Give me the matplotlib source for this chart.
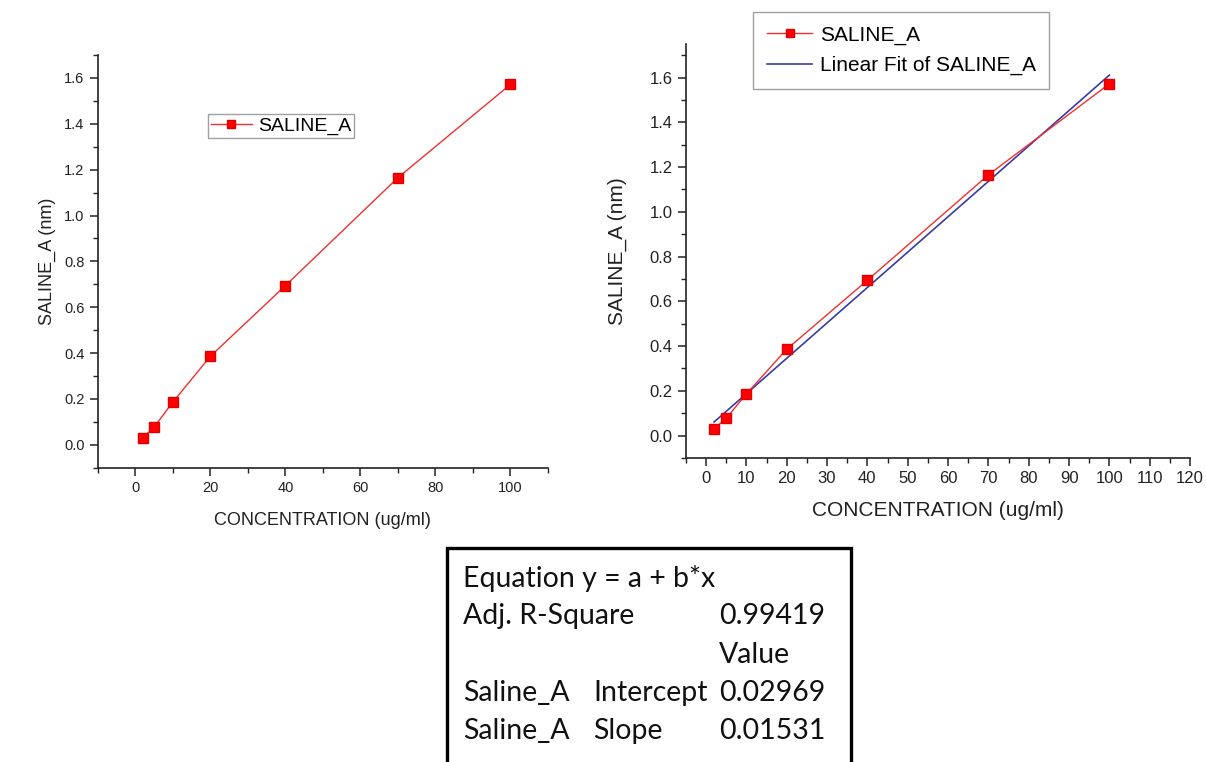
import numpy as np
import matplotlib
matplotlib.use("Agg")
import matplotlib.pyplot as plt
from matplotlib.patches import Rectangle
from matplotlib.ticker import MultipleLocator, FormatStrFormatter

# ---- data ----
concentration = [2, 5, 10, 20, 40, 70, 100]
saline_a = [0.030, 0.077, 0.186, 0.386, 0.694, 1.165, 1.572]
series_label = "SALINE_A"
fit_label = "Linear Fit of SALINE_A"
x_label = "CONCENTRATION (ug/ml)"
y_label = "SALINE_A (nm)"
table_rows = [
    ("Equation y = a + b*x", "", ""),
    ("Adj. R-Square", "", "0.99419"),
    ("", "", "Value"),
    ("Saline_A", "Intercept", "0.02969"),
    ("Saline_A", "Slope", "0.01531"),
]

plt.rcParams['font.family'] = ['Liberation Sans', 'DejaVu Sans']

RED = '#ff0000'
LINE_RED = '#f03030'
BLUE = '#3b3ba6'
W, H = 1206.0, 762.0

fig = plt.figure(figsize=(12.06, 7.62), dpi=100)

def style(ax, xmaj, xmin, fs):
    ax.spines['top'].set_visible(False)
    ax.spines['right'].set_visible(False)
    for s in ('left', 'bottom'):
        ax.spines[s].set_linewidth(1.2)
        ax.spines[s].set_color('#222222')
    ax.xaxis.set_major_locator(MultipleLocator(xmaj))
    ax.xaxis.set_minor_locator(MultipleLocator(xmin))
    ax.yaxis.set_major_locator(MultipleLocator(0.2))
    ax.yaxis.set_minor_locator(MultipleLocator(0.1))
    ax.tick_params(which='major', direction='out', length=6, width=1.1,
                   labelsize=fs, color='#222222', labelcolor='#222222')
    ax.tick_params(which='minor', direction='out', length=3.5, width=1.0,
                   color='#222222')
    ax.yaxis.set_major_formatter(FormatStrFormatter('%.1f'))

# ---- left chart ----
ax1 = fig.add_axes([0.0811, 0.3862, 0.3733, 0.5416])
ax1.plot(concentration, saline_a, color=LINE_RED, lw=1.0, marker='s',
         ms=7.5, mfc=RED, mec='#e00000', label=series_label)
ax1.set_xlim(-10, 110)
ax1.set_ylim(-0.1, 1.7)
style(ax1, 20, 10, 10.5)
ax1.set_xlabel(x_label, fontsize=13, color='#222222', va='center')
ax1.set_ylabel(y_label, fontsize=13, color='#222222', va='center')
ax1.xaxis.set_label_coords(0.5, -0.127)
ax1.yaxis.set_label_coords(-0.112, 0.5)
leg1 = ax1.legend(loc='upper left', bbox_to_anchor=(0.245, 0.856),
                  borderaxespad=0, fontsize=14, fancybox=False,
                  handlelength=2.1, handletextpad=0.3, borderpad=0.15,
                  markerscale=0.8)
leg1.get_frame().set_edgecolor('#888888')
leg1.get_frame().set_linewidth(1.0)

# ---- right chart ----
ax2 = fig.add_axes([0.5687, 0.399, 0.4181, 0.5433])
ax2.plot(concentration, saline_a, color=LINE_RED, lw=1.0, marker='s',
         ms=7.5, mfc=RED, mec='#e00000', label=series_label, zorder=3)
slope, intercept = np.polyfit(concentration, saline_a, 1)
xf = np.array([concentration[0], concentration[-1]])
ax2.plot(xf, intercept + slope * xf, color=BLUE, lw=1.2, label=fit_label,
         zorder=2)
ax2.set_xlim(-5, 120)
ax2.set_ylim(-0.1, 1.75)
style(ax2, 10, 5, 12)
ax2.set_xlabel(x_label, fontsize=15, color='#222222', va='center')
ax2.set_ylabel(y_label, fontsize=15, color='#222222', va='center')
ax2.xaxis.set_label_coords(0.5, -0.126)
ax2.yaxis.set_label_coords(-0.136, 0.5)
leg2 = ax2.legend(loc='upper left', bbox_to_anchor=((753 - 685.8) / 504.2, (458 - 12) / 414),
                  borderaxespad=0, fontsize=15, fancybox=False,
                  handlelength=2.2, handletextpad=0.35, borderpad=0.65,
                  labelspacing=0.55, markerscale=0.8)
leg2.get_frame().set_edgecolor('#888888')
leg2.get_frame().set_linewidth(1.0)

# ---- result table box ----
fig.patches.append(Rectangle((447 / W, -0.01), (851 - 447) / W, 0.01 + 1 - 548 / H,
                             transform=fig.transFigure, fill=False,
                             edgecolor='black', linewidth=2.4))
row_y = [578, 616, 655, 693, 731]
col_x = [463, 593, 719]
for (c1, c2, c3), yy in zip(table_rows, row_y):
    for txt, xx in zip((c1, c2, c3), col_x):
        if txt:
            fig.text(xx / W, 1 - yy / H, txt, fontsize=20.5, va='center',
                     ha='left', family=['Lato', 'DejaVu Sans'], color='#111111')

fig.savefig('out.png', dpi=100, facecolor='white')
